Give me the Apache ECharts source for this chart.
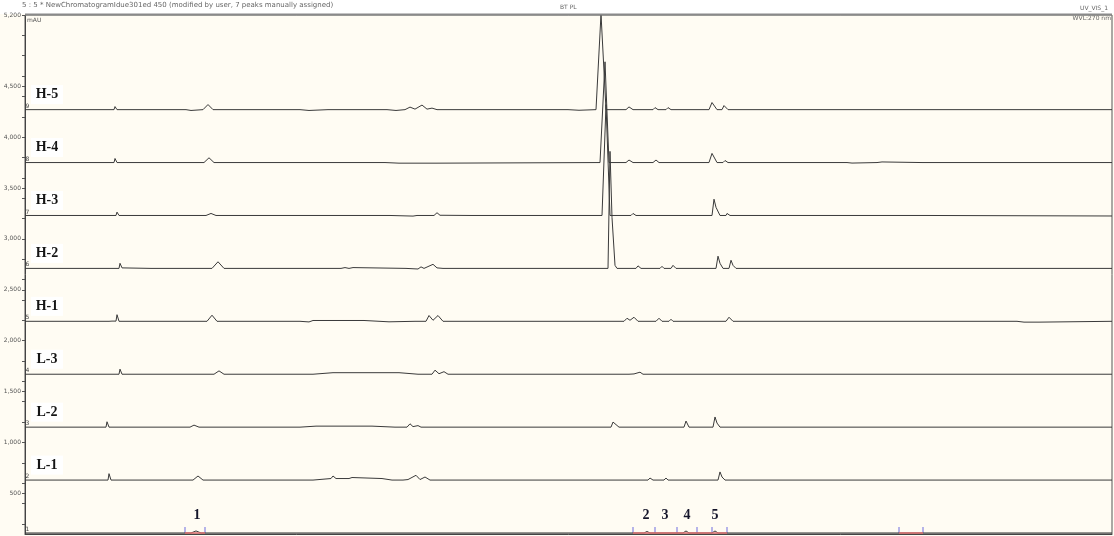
<!DOCTYPE html>
<html>
<head>
<meta charset="utf-8">
<script src="https://cdn.jsdelivr.net/npm/echarts@6/dist/echarts.min.js"></script>
<style>
html, body { margin: 0; padding: 0; background: #fffcf3; }
#chart { width: 1114px; height: 536px; }
</style>
</head>
<body>
<div id="chart"></div>
<script>
// trace names, bottom to top, and the overlay offset (mAU) of each baseline
var traceNames = ['1', 'L-1', 'L-2', 'L-3', 'H-1', 'H-2', 'H-3', 'H-4', 'H-5'];
var traceIndex = ['1', '2', '3', '4', '5', '6', '7', '8', '9'];
var offsets = [110, 630, 1150, 1670, 2190, 2710, 3230, 3750, 4270];

// [time min, mAU above baseline]
var trace1 = [[0,0],[8.3,0],[8.55,20],[8.8,0],[30.95,0],[31.1,15],[31.25,0],[31.85,0],[31.9,8],[31.95,0],
  [32.9,0],[33.05,20],[33.2,0],[34.35,0],[34.5,20],[34.65,0],[42.3,0],[42.35,6],[42.4,0],[54.35,0]];

var traceL1 = [[0,0],[4.15,0],[4.2,63],[4.3,0],[5.5,0],[5.55,8],[5.6,0],[8.4,0],[8.65,40],[8.9,0],
  [14.4,0],[14.5,15],[15.3,15],[15.4,40],[15.55,15],[16.05,15],[16.1,25],[16.2,15],[16.3,15],[16.35,25],[16.45,15],[17.85,15],[17.9,0],
  [18.35,0],[18.4,-5],[18.5,0],[18.9,0],[19.0,15],[19.15,5],[19.55,47],[19.75,5],[20.0,30],[20.25,0],
  [28.95,0],[29.0,6],[29.05,0],[29.8,0],[29.85,10],[29.95,0],[31.15,0],[31.25,20],[31.4,0],[31.95,0],[32.05,20],[32.15,0],
  [34.65,0],[34.75,80],[34.85,30],[35.0,0],[37.25,0],[37.3,6],[37.35,0],[39.1,0],[39.15,6],[39.2,0],[54.35,0]];

var traceL2 = [[0,0],[4.05,0],[4.1,53],[4.2,0],[5.45,0],[5.5,8],[5.55,0],[8.25,0],[8.45,20],[8.7,0],
  [13.75,0],[13.8,10],[14.55,10],[14.65,18],[14.75,10],[15.65,10],[15.75,18],[15.85,10],[17.35,10],[17.4,0],
  [18.5,0],[18.55,-5],[18.65,0],[19.1,0],[19.25,33],[19.4,5],[19.65,15],[19.8,0],[21.05,0],[21.1,8],[21.15,0],
  [29.3,0],[29.4,50],[29.55,25],[29.7,0],[30.95,0],[31.0,15],[31.1,0],[31.75,0],[31.8,8],[31.85,0],
  [32.95,0],[33.05,60],[33.2,0],[34.4,0],[34.5,100],[34.6,40],[34.75,0],[54.35,0]];

var traceL3 = [[0,0],[4.7,0],[4.75,50],[4.85,0],[6.2,0],[6.25,8],[6.3,0],[9.45,0],[9.7,33],[9.95,0],
  [14.4,0],[14.5,15],[15.4,15],[15.5,25],[15.6,15],[16.0,15],[16.1,25],[16.2,15],[16.55,15],[16.65,22],[16.75,15],[18.7,15],[18.75,0],
  [19.65,0],[19.75,10],[19.85,0],[20.35,0],[20.5,40],[20.7,5],[20.95,25],[21.15,0],
  [28.35,0],[28.4,6],[28.45,0],[30.2,0],[30.3,15],[30.45,3],[30.75,20],[30.9,0],[31.85,0],[31.9,8],[31.95,0],
  [32.35,0],[32.4,8],[32.45,0],[39.55,0],[39.6,6],[39.65,0],[54.35,0]];

var traceH1 = [[0,0],[4.2,0],[4.25,10],[4.35,2],[4.55,2],[4.6,65],[4.7,0],[5.6,0],[5.65,-5],[5.8,0],[6.3,0],[6.35,-5],[6.5,0],
  [9.1,0],[9.35,60],[9.6,0],[10.7,0],[10.75,-5],[10.85,0],[12.2,0],[12.25,-5],[12.35,0],
  [13.75,0],[13.8,-6],[14.2,-6],[14.4,8],[15.35,8],[15.4,15],[15.5,8],[15.85,8],[15.9,15],[16.0,8],[16.95,8],[17.0,-5],[18.2,-5],[18.25,0],
  [19.5,0],[19.6,15],[19.75,0],[20.05,0],[20.2,57],[20.4,10],[20.65,57],[20.9,0],
  [29.95,0],[30.1,30],[30.25,10],[30.45,40],[30.65,0],[31.55,0],[31.7,30],[31.85,0],[32.2,0],[32.3,20],[32.4,0],[33.7,0],[33.8,15],[33.95,0],
  [35.05,0],[35.2,40],[35.4,0],[37.6,0],[37.65,6],[37.7,0],[39.4,0],[39.45,6],[39.5,0],
  [49.6,0],[49.65,-8],[49.95,-8],[50.05,0],[50.15,-8],[50.7,-8],[50.75,0],[54.35,0]];

var traceH2 = [[0,0],[4.35,0],[4.4,8],[4.45,0],[4.7,0],[4.75,50],[4.85,5],[4.95,0],[6.3,0],[6.35,8],[6.4,0],
  [9.35,0],[9.65,65],[9.95,0],[10.0,-5],[10.1,0],
  [14.85,0],[14.9,8],[14.95,0],[15.5,0],[15.6,8],[15.8,0],[16.0,8],[16.2,0],[16.4,8],[16.45,0],
  [19.05,0],[19.1,-6],[19.65,-6],[19.8,15],[19.95,0],[20.4,40],[20.6,5],[20.9,0],
  [29.15,0],[29.25,1150],[29.35,500],[29.5,30],[29.6,0],
  [30.55,0],[30.65,25],[30.8,0],[31.75,0],[31.85,20],[31.95,0],[32.3,0],[32.4,30],[32.55,0],
  [34.55,0],[34.65,120],[34.75,50],[34.9,0],[35.2,0],[35.3,80],[35.4,30],[35.55,0],
  [39.45,0],[39.5,6],[39.55,0],[46.6,0],[46.65,5],[46.75,0],[48.7,0],[48.75,5],[48.8,0],[54.35,0]];

var traceH3 = [[0,0],[4.0,0],[4.1,8],[4.2,0],[4.3,6],[4.35,0],[4.55,0],[4.6,33],[4.7,0],[5.95,0],[6.0,8],[6.05,0],
  [7.3,0],[7.35,8],[7.4,0],[9.05,0],[9.3,20],[9.55,0],
  [13.35,0],[13.4,8],[13.5,0],[15.3,0],[15.35,8],[15.4,0],[18.25,0],[18.3,-6],[19.4,-6],[19.5,5],[19.6,0],
  [20.45,0],[20.6,27],[20.75,2],[20.9,2],[20.95,0],[22.3,0],[22.35,8],[22.45,0],[23.8,0],[23.85,6],[23.9,0],
  [28.85,0],[29.05,1090],[29.25,0],
  [30.3,0],[30.4,20],[30.55,0],[31.6,0],[31.65,8],[31.7,0],[32.2,0],[32.25,8],[32.3,0],
  [34.35,0],[34.45,160],[34.55,80],[34.75,0],[35.05,0],[35.1,20],[35.25,0],
  [37.55,0],[37.6,6],[37.65,0],[39.3,0],[39.35,6],[39.4,0],[45.1,0],[45.15,-5],[54.35,-5]];

var traceH4 = [[0,0],[4.45,0],[4.5,40],[4.6,0],[5.85,0],[5.9,10],[5.95,0],[7.2,0],[7.25,8],[7.3,0],[8.95,0],[9.2,47],[9.45,0],
  [15.15,0],[15.25,15],[15.4,0],[15.6,0],[15.65,10],[15.75,0],
  [18.0,0],[18.05,-6],[18.7,-6],[18.75,2],[18.85,-6],[19.3,-6],[19.35,5],[19.45,-6],[19.85,-6],[19.9,5],[20.0,-6],[20.55,-6],[20.6,0],
  [28.75,0],[29.0,990],[29.2,0],
  [30.05,0],[30.2,25],[30.4,0],[31.4,0],[31.55,25],[31.7,0],[32.15,0],[32.2,10],[32.3,0],
  [34.2,0],[34.35,90],[34.6,0],[34.9,0],[35.0,20],[35.15,0],[37.35,0],[37.4,6],[37.45,0],
  [41.1,0],[41.15,-5],[41.35,-5],[41.4,0],[42.6,0],[42.65,6],[42.85,6],[42.9,0],[44.85,0],[44.9,6],[44.95,0],[54.35,0]];

var traceH5 = [[0,0],[4.45,0],[4.5,30],[4.6,0],[5.8,0],[5.85,10],[5.9,0],[8.05,0],[8.1,-8],[8.3,-8],[8.35,0],[8.9,0],[9.15,50],[9.4,0],
  [13.75,0],[13.8,-8],[14.2,-8],[14.25,0],[15.15,0],[15.2,10],[15.25,0],[17.6,0],[17.65,-8],[17.7,0],
  [18.1,0],[18.15,-8],[18.55,-8],[18.6,0],[19.0,0],[19.25,25],[19.5,5],[19.85,45],[20.1,5],[20.35,15],[20.6,0],
  [27.15,0],[27.2,-6],[27.7,-6],[27.75,0],[28.55,0],[28.8,940],[29.05,0],
  [30.05,0],[30.2,27],[30.4,0],[31.4,0],[31.5,20],[31.65,0],[32.05,0],[32.15,20],[32.3,0],
  [33.0,0],[33.05,8],[33.1,0],[33.8,0],[33.85,8],[33.9,0],
  [34.2,0],[34.35,70],[34.6,0],[34.85,0],[34.95,40],[35.15,0],
  [37.35,0],[37.45,8],[37.6,0],[38.0,0],[38.1,6],[38.3,0],[39.05,0],[39.1,-5],[39.15,0],[42.5,0],[42.6,5],[42.75,0],[54.35,0]];

var traces = [trace1, traceL1, traceL2, traceL3, traceH1, traceH2, traceH3, traceH4, traceH5];

// peak assignment on the bottom trace
var peakNames = ['1', '2', '3', '4', '5'];
var peakTimes = [8.6, 31.05, 32.0, 33.1, 34.5];
var baselineSegments = [[8.0, 9.0], [30.4, 35.1], [43.7, 44.9]];
var delimiters = [8.0, 9.0, 30.4, 31.5, 32.6, 33.6, 34.35, 35.1, 43.7, 44.9];

// y axis
var yLabels = [500, 1000, 1500, 2000, 2500, 3000, 3500, 4000, 4500, 5200];
var yTicks = [200, 400, 500, 600, 800, 1000, 1200, 1400, 1500, 1600, 1800, 2000, 2200, 2400, 2500, 2600, 2800, 3000,
  3200, 3400, 3500, 3600, 3800, 4000, 4200, 4400, 4500, 4600, 4800, 5000, 5200];

var chart = echarts.init(document.getElementById('chart'));

var series = [];
traceNames.forEach(function (name, i) {
  var off = offsets[i];
  var marks = [{
    coord: [0.12, off],
    symbol: 'rect', symbolSize: 1,
    itemStyle: { color: 'rgba(0,0,0,0)' },
    label: { show: true, position: 'top', distance: 0, formatter: traceIndex[i], fontSize: 6, color: '#444', fontFamily: 'DejaVu Sans' }
  }];
  if (i > 0) {
    marks.push({
      coord: [1.1, off],
      symbol: 'rect', symbolSize: [32, 19], symbolOffset: [0, -15],
      itemStyle: { color: '#ffffff' },
      label: { show: true, position: 'inside', formatter: name, fontSize: 14, fontWeight: 'bold', color: '#151515', fontFamily: 'Liberation Serif' }
    });
  }
  var s = {
    name: name,
    type: 'line',
    symbol: 'none',
    silent: true,
    animation: false,
    lineStyle: { color: '#3a3a3a', width: 1 },
    data: traces[i].map(function (p) { return [p[0], p[1] + off]; }),
    markPoint: { silent: true, animation: false, data: marks }
  };
  if (i === 0) {
    peakNames.forEach(function (pn, k) {
      marks.push({
        coord: [peakTimes[k], off],
        symbol: 'rect', symbolSize: 1,
        itemStyle: { color: 'rgba(0,0,0,0)' },
        label: { show: true, position: 'top', distance: 10, formatter: pn, fontSize: 14, fontWeight: 'bold', color: '#15152a', fontFamily: 'Liberation Serif' }
      });
    });
    s.markLine = {
      silent: true, animation: false, symbol: 'none',
      label: { show: false },
      lineStyle: { color: '#e07070', width: 1.5, type: 'solid' },
      data: baselineSegments.map(function (g) { return [{ coord: [g[0], off] }, { coord: [g[1], off] }]; })
    };
  }
  series.push(s);
});

series.push({
  type: 'scatter',
  silent: true,
  animation: false,
  symbol: 'rect',
  symbolSize: [1, 6],
  symbolOffset: [0, -3],
  itemStyle: { color: '#4a4ad8' },
  data: delimiters.map(function (t) { return [t, offsets[0]]; })
});

var option = {
  backgroundColor: '#fffcf3',
  animation: false,
  grid: { left: 25, right: 2, top: 15, bottom: 2, show: true, borderColor: '#555', borderWidth: 1 },
  xAxis: {
    type: 'value', min: 0, max: 54.35,
    axisLine: { show: true, lineStyle: { color: '#444' } },
    axisTick: { show: false }, axisLabel: { show: false }, splitLine: { show: false }
  },
  yAxis: {
    type: 'value', min: 100, max: 5200,
    axisLine: { show: true, lineStyle: { color: '#444' } },
    axisTick: { show: true, length: 3, customValues: yTicks, lineStyle: { color: '#555' } },
    axisLabel: {
      customValues: yLabels, fontSize: 6, color: '#555', margin: 4, fontFamily: 'DejaVu Sans',
      formatter: function (v) { return v.toLocaleString('en-US'); }
    },
    splitLine: { show: false }
  },
  graphic: [
    { type: 'rect', z: -10, shape: { x: 0, y: 0, width: 1114, height: 14 }, style: { fill: '#ffffff' } },
    { type: 'line', z: 10, shape: { x1: 25, y1: 14.5, x2: 1112, y2: 14.5 }, style: { stroke: '#8a8a8a', lineWidth: 2 } },
    { type: 'text', left: 22, top: 2, style: { text: '5 : 5 * NewChromatogramIdue301ed 450 (modified by user, 7 peaks manually assigned)', fontSize: 7, fill: '#666', fontFamily: 'DejaVu Sans' } },
    { type: 'text', left: 560, top: 4, style: { text: 'BT PL', fontSize: 6, fill: '#666', fontFamily: 'DejaVu Sans' } },
    { type: 'text', right: 6, top: 5, style: { text: 'UV_VIS_1', fontSize: 6, fill: '#666', fontFamily: 'DejaVu Sans' } },
    { type: 'text', right: 3, top: 15, style: { text: 'WVL:270 nm', fontSize: 6, fill: '#666', fontFamily: 'DejaVu Sans' } },
    { type: 'text', left: 27, top: 17, style: { text: 'mAU', fontSize: 6, fill: '#555', fontFamily: 'DejaVu Sans' } }
  ],
  series: series
};

chart.setOption(option);
</script>
</body>
</html>
